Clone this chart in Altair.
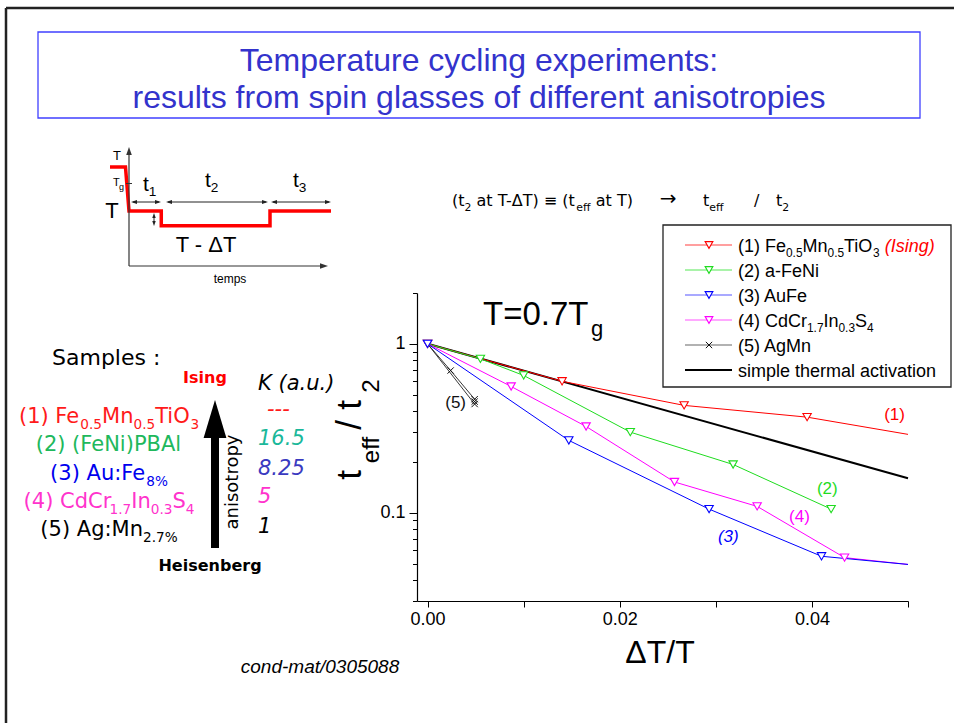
import altair as alt
import pandas as pd

# ---------------- data ----------------
# t_eff / t_2 versus dT/T at T = 0.7 Tg
red_x = [0.0, 0.0140, 0.0267, 0.0395, 0.0500]          # (1) Fe0.5Mn0.5TiO3
red_y = [1.0, 0.600, 0.432, 0.368, 0.291]
green_x = [0.0, 0.0055, 0.0100, 0.0211, 0.0318, 0.0420]  # (2) a-FeNi
green_y = [1.0, 0.815, 0.650, 0.300, 0.193, 0.105]
blue_x = [0.0, 0.0147, 0.0293, 0.0410, 0.0500]          # (3) AuFe
blue_y = [1.0, 0.268, 0.105, 0.0552, 0.0494]
mag_x = [0.0, 0.0087, 0.0165, 0.0257, 0.0343, 0.0434, 0.0500]  # (4) CdCr1.7In0.3S4
mag_y = [1.0, 0.559, 0.324, 0.152, 0.109, 0.0542, 0.0494]
agmn_x = [0.0, 0.0024, 0.0049]                           # (5) AgMn
agmn_y = [1.0, 0.695, 0.470]
agmn2_x = [0.0, 0.0049]
agmn2_y = [1.0, 0.440]
agmn_mk_x = [0.0024, 0.0049, 0.0049, 0.0049]
agmn_mk_y = [0.695, 0.470, 0.455, 0.440]
act_x = [0.0, 0.0500]                                    # simple thermal activation
act_y = [1.0, 0.160]

# curve tags
tag_text = ["(1)", "(2)", "(3)", "(4)", "(5)"]
tag_x = [0.0486, 0.0416, 0.0313, 0.0387, 0.0040]
tag_y = [0.377, 0.139, 0.072, 0.094, 0.446]

# inset: temperature protocol (time a.u., temperature in units of T)
proto_time = [0, 7, 8.6, 23.2, 23.2, 72.4, 72.4, 100]
proto_temp = [1.3, 1.3, 1.0, 1.0, 0.9, 0.9, 1.0, 1.0]

# samples table
sample_K = ["---", "16.5", "8.25", "5", "1"]

# ---------------- styling ----------------
AR = "Liberation Sans"
VD = "DejaVu Sans"
RED, GREEN, BLUE, MAG = "#ff0000", "#1fdc1f", "#0000ff", "#ff00ff"
TITLE_BLUE = "#3333cc"
X0, Y0 = 417, 293        # page position of plot area
PW, PH = 491, 308

W_AR = {' ': .278, '(': .333, ')': .333, '-': .333, '.': .278, '/': .278, '=': .584, 'Δ': .668,
        'A': .667, 'C': .722, 'F': .611, 'I': .278, 'M': .833, 'N': .722, 'O': .778, 'S': .667,
        'T': .611, 'a': .556, 'c': .5, 'd': .556, 'e': .556, 'f': .278, 'g': .556, 'h': .556,
        'i': .222, 'l': .222, 'm': .833, 'n': .556, 'o': .556, 'p': .556, 'r': .333, 's': .5,
        't': .278, 'u': .556, 'v': .5}
for d in "0123456789":
    W_AR[d] = .556
W_VD = {' ': .318, '(': .390, ')': .390, '-': .361, '.': .318, '/': .337, ':': .337, '%': .950,
        '≡': .838, '→': .838, 'Δ': .684, 'A': .684, 'B': .686, 'C': .698, 'F': .575, 'I': .295,
        'K': .656, 'M': .863, 'N': .748, 'O': .787, 'P': .603, 'S': .635, 'T': .611, 'a': .613,
        'e': .615, 'f': .352, 'g': .635, 'i': .278, 'l': .278, 'm': .974, 'n': .634, 'o': .612,
        'p': .635, 'r': .411, 's': .521, 't': .392, 'u': .634}
for d in "0123456789":
    W_VD[d] = .636


def width(s, size, font):
    tab = W_AR if font == AR else W_VD
    return sum(tab.get(c, 0.55) for c in s) * size


annot = []


def txt(s, x, y, size, color="black", font=AR, align="left", baseline="alphabetic",
        style=None, weight=None, angle=None):
    kw = dict(text=s, fontSize=size, color=color, font=font, align=align, baseline=baseline)
    if style:
        kw["fontStyle"] = style
    if weight:
        kw["fontWeight"] = weight
    if angle is not None:
        kw["angle"] = angle
    annot.append(alt.Chart().mark_text(**kw).encode(x=alt.value(x - X0), y=alt.value(y - Y0)))


def rich(parts, x, y, size, color="black", font=AR, align="left", sub=0.65, shift=0.3):
    items = []
    for p in parts:
        s, kind = p[0], p[1]
        opts = p[2] if len(p) > 2 else {}
        fs = size * sub if kind == "s" else size
        items.append((s, fs, kind, opts, width(s, fs, font)))
    total = sum(i[4] for i in items)
    cx = x - total / 2 if align == "center" else (x - total if align == "right" else x)
    for s, fs, kind, opts, w in items:
        dy = size * shift if kind == "s" else 0
        lead = len(s) - len(s.lstrip(" "))
        txt(s.strip(), cx + width(" " * lead, fs, font), y + dy, fs,
            color=opts.get("color", color), font=font, style=opts.get("style"))
        cx += w


def rule(x1, y1, x2, y2, color="black", w=1.0, cap="butt"):
    annot.append(alt.Chart().mark_rule(color=color, strokeWidth=w, strokeCap=cap).encode(
        x=alt.value(x1 - X0), y=alt.value(y1 - Y0), x2=alt.value(x2 - X0), y2=alt.value(y2 - Y0)))


def sym(x, y, shape, size, color, filled=True, w=1.0):
    annot.append(alt.Chart().mark_point(shape=shape, size=size, filled=filled, color=color,
                                        strokeWidth=w, opacity=1).encode(
        x=alt.value(x - X0), y=alt.value(y - Y0)))


def box(x1, y1, x2, y2, stroke, w, fill=None):
    kw = dict(stroke=stroke, strokeWidth=w)
    if fill:
        kw["fill"] = fill
    else:
        kw["fillOpacity"] = 0
    annot.append(alt.Chart().mark_rect(**kw).encode(
        x=alt.value(x1 - X0), y=alt.value(y1 - Y0), x2=alt.value(x2 - X0), y2=alt.value(y2 - Y0)))


# ---------------- main plot ----------------
xs = alt.Scale(domain=[-0.0011, 0.05], nice=False, zero=False)
ys = alt.Scale(type="log", domain=[0.03, 2], nice=False)
xmaj = "abs(datum.value) < 1e-9 || abs(datum.value - 0.02) < 1e-9 || abs(datum.value - 0.04) < 1e-9"
xaxis = alt.Axis(values=[0, 0.01, 0.02, 0.03, 0.04, 0.05],
                 labelExpr=f"({xmaj}) ? format(datum.value, '.2f') : ''",
                 tickSize=6, tickColor="black", tickWidth=1, domainColor="black", domainWidth=1.2,
                 labelColor="black", labelFont=AR, labelFontSize=18, labelPadding=3,
                 labelFlush=False, labelOverlap=False, grid=False, title="")
yaxis = alt.Axis(values=[0.03, 0.04, 0.05, 0.06, 0.07, 0.08, 0.09, 0.1, 0.2, 0.3, 0.4, 0.5,
                         0.6, 0.7, 0.8, 0.9, 1, 2],
                 labelExpr="datum.value == 1 ? '1' : (datum.value == 0.1 ? '0.1' : '')",
                 tickSize={"condition": {"test": "datum.value == 1 || datum.value == 0.1", "value": 8},
                           "value": 4.5},
                 tickColor="black", tickWidth=1, domainColor="black", domainWidth=1.2,
                 labelColor="black", labelFont=AR, labelFontSize=18, labelPadding=4,
                 labelFlush=False, labelOverlap=False, grid=False, title="")
XE = alt.X("x:Q", scale=xs, axis=xaxis)
YE = alt.Y("y:Q", scale=ys, axis=yaxis)


def sdf(a, b):
    return pd.DataFrame({"x": a, "y": b, "i": list(range(len(a)))})


main_layers = [alt.Chart(sdf(act_x, act_y)).mark_line(color="black", strokeWidth=2).encode(
    x=XE, y=YE, order="i:Q")]
tri_series = [(red_x, red_y, RED), (green_x, green_y, GREEN), (mag_x, mag_y, MAG), (blue_x, blue_y, BLUE)]
for a, b, col in tri_series:
    main_layers.append(alt.Chart(sdf(a, b)).mark_line(color=col, strokeWidth=1).encode(
        x=XE, y=YE, order="i:Q"))
for a, b in [(agmn_x, agmn_y), (agmn2_x, agmn2_y)]:
    main_layers.append(alt.Chart(sdf(a, b)).mark_line(color="#222222", strokeWidth=0.9).encode(
        x=XE, y=YE, order="i:Q"))
for a, b, col in tri_series:
    d = sdf(a, b)
    d = d[d["x"] < 0.05]
    main_layers.append(alt.Chart(d).mark_point(shape="triangle-down", size=70, filled=True,
                                               fill="white", stroke=col, strokeWidth=1.1,
                                               opacity=1).encode(x=XE, y=YE))
main_layers.append(alt.Chart(sdf(agmn_mk_x, agmn_mk_y)).mark_point(
    shape="M-1,-1L1,1M-1,1L1,-1", size=40, filled=False, color="#111111", strokeWidth=1,
    opacity=1).encode(x=XE, y=YE))
tag_style = [(RED, None, "center"), (GREEN, None, "center"), (BLUE, "italic", "center"),
             (MAG, None, "center"), ("#111111", None, "right")]
for t, a, b, (col, st, al) in zip(tag_text, tag_x, tag_y, tag_style):
    kw = dict(text=t, fontSize=17, font=AR, color=col, align=al, baseline="middle")
    if st:
        kw["fontStyle"] = st
    main_layers.append(alt.Chart(pd.DataFrame({"x": [a], "y": [b]})).mark_text(**kw).encode(x=XE, y=YE))
main = alt.layer(*main_layers)

# inset protocol curve, with its own scales placed over the inset area
inset = alt.Chart(pd.DataFrame({"t": proto_time, "T": proto_temp, "i": list(range(len(proto_time)))})
                  ).mark_line(color="#ff0000", strokeWidth=3.5).encode(
    x=alt.X("t:Q", scale=alt.Scale(domain=[0, 100], range=[110 - X0, 331 - X0], nice=False, zero=False),
            axis=None),
    y=alt.Y("T:Q", scale=alt.Scale(domain=[0.9, 1.3], range=[225.7 - Y0, 166.9 - Y0], nice=False, zero=False),
            axis=None),
    order="i:Q")

# ---------------- annotations ----------------
# T = 0.7 Tg
txt("T=0.7T", 483, 325, 33, font=AR)
txt("g", 591, 336, 22, font=AR)

# plot legend
box(663, 225, 951, 387, "#222222", 1.3, fill="white")
leg_y = [245, 270, 295, 320, 345, 370]
leg_line = ["#ff4040", "#55e855", "#5555ff", "#ff55ff", "#666666"]
leg_mark = [RED, GREEN, BLUE, MAG]
for k in range(4):
    rule(685, leg_y[k], 732, leg_y[k], leg_line[k], 1.2)
    annot.append(alt.Chart().mark_point(shape="triangle-down", size=60, filled=True, fill="white",
                                        stroke=leg_mark[k], strokeWidth=1.1, opacity=1).encode(
        x=alt.value(709 - X0), y=alt.value(leg_y[k] - Y0)))
rule(685, leg_y[4], 732, leg_y[4], "#666666", 1.2)
sym(709, leg_y[4], "M-1,-1L1,1M-1,1L1,-1", 40, "#111111", filled=False, w=1)
rule(685, leg_y[5], 732, leg_y[5], "black", 2)
LS, LSUB = 18, 0.66
rich([("(1) Fe", "n"), ("0.5", "s"), ("Mn", "n"), ("0.5", "s"), ("TiO", "n"), ("3", "s"),
      (" (Ising)", "n", {"color": RED, "style": "italic"})], 738, leg_y[0] + 6.5, LS, sub=LSUB, shift=0.28)
rich([("(2) a-FeNi", "n")], 738, leg_y[1] + 6.5, LS)
rich([("(3) AuFe", "n")], 738, leg_y[2] + 6.5, LS)
rich([("(4) CdCr", "n"), ("1.7", "s"), ("In", "n"), ("0.3", "s"), ("S", "n"), ("4", "s")],
     738, leg_y[3] + 6.5, LS, sub=LSUB, shift=0.28)
rich([("(5) AgMn", "n")], 738, leg_y[4] + 6.5, LS)
rich([("simple thermal activation", "n")], 738, leg_y[5] + 6.5, LS)

# axis titles
txt("ΔT/T", 660, 653, 32, font=AR, align="center", baseline="middle")
# rotated y title: (text, size, baseline x, centre y along the axis)
for s, f, bx, cyy in [("t", 35, 361, 475), ("eff", 24, 379, 450), ("/", 35, 361, 425),
                      ("t", 35, 361, 405), ("2", 24, 379, 386)]:
    txt(s, bx, cyy, f, font=AR, align="center", angle=270)

# slide frame and title
rule(6, 8, 954, 8, "#222222", 2.5)
rule(6, 8, 6, 723, "#222222", 2.5)
box(38, 32, 920, 118, "#4040ff", 1.3)
txt("Temperature cycling experiments:", 479, 61, 32, color=TITLE_BLUE, align="center", baseline="middle")
txt("results from spin glasses of different anisotropies", 479, 98, 32, color=TITLE_BLUE,
    align="center", baseline="middle")

# formula line
rich([("(t", "n"), ("2", "s"), (" at T-ΔT) ≡ (t", "n"), ("eff", "s"), (" at T)", "n")],
     452, 206, 16, font=VD, sub=0.68, shift=0.3)
txt("→", 668, 205, 20, font=VD, align="center")
rich([("t", "n"), ("eff", "s")], 703, 206, 16, font=VD, sub=0.68, shift=0.3)
txt("/", 754, 206, 16, font=VD)
rich([("t", "n"), ("2", "s")], 776, 206, 16, font=VD, sub=0.68, shift=0.3)

# inset diagram
AX = "#333333"
rule(129, 266, 129, 153, AX, 1.2)
sym(129, 151, "M0,-1L0.7,1L-0.7,1Z", 64, AX)
rule(129, 266, 322, 266, AX, 1.2)
sym(324, 266, "M1,0L-1,0.7L-1,-0.7Z", 64, AX)
rule(126, 183.5, 132, 183.5, AX, 1)
for a, b in [(131, 161), (166, 268), (271, 331)]:
    rule(a + 2, 202, b - 2, 202, "#222222", 1)
    sym(a + 3, 202, "M-1,0L1,-0.7L1,0.7Z", 36, "#222222")
    sym(b - 3, 202, "M1,0L-1,0.7L-1,-0.7Z", 36, "#222222")
rule(154, 216, 154, 223, "#222222", 1)
sym(154, 215.5, "M0,-1L0.7,1L-0.7,1Z", 25, "#222222")
sym(154, 223.5, "M0,1L0.7,-1L-0.7,-1Z", 25, "#222222")
txt("T", 117, 160, 13, font=AR, align="center")
txt("T", 113, 186, 11, font=AR)
txt("g", 119, 190, 9, font=AR)
txt("T", 112, 218, 22, font=AR, align="center")
rich([("t", "n"), ("1", "s")], 143, 191, 21, sub=0.65, shift=0.25)
rich([("t", "n"), ("2", "s")], 205, 187, 21, sub=0.65, shift=0.25)
rich([("t", "n"), ("3", "s")], 293, 187, 21, sub=0.65, shift=0.25)
txt("T - ΔT", 206, 245, 22, font=AR, align="center", baseline="middle")
txt("temps", 230, 279, 12, font=AR, align="center", baseline="middle")

# samples block
txt("Samples :", 52, 365, 22, font=VD)
txt("Ising", 205, 383, 16, color="#ff0000", font=VD, align="center", weight="bold")
txt("K (a.u.)", 258, 390, 21, font=VD, style="italic")
SS = 21
rich([("(1) Fe", "n"), ("0.5", "s"), ("Mn", "n"), ("0.5", "s"), ("TiO", "n"), ("3", "s")],
     109, 423, SS, color="#ff1a1a", font=VD, align="center")
rich([("(2) (FeNi)PBAl", "n")], 109, 451, SS, color="#20b85c", font=VD, align="center")
rich([("(3) Au:Fe", "n"), ("8%", "s")], 109, 480, SS, color="#0000ee", font=VD, align="center")
rich([("(4) CdCr", "n"), ("1.7", "s"), ("In", "n"), ("0.3", "s"), ("S", "n"), ("4", "s")],
     109, 508, SS, color="#ff33cc", font=VD, align="center")
rich([("(5) Ag:Mn", "n"), ("2.7%", "s")], 109, 536, SS, color="black", font=VD, align="center")
k_pos = [(267, 416), (258, 445), (258, 475), (258, 503), (258, 533)]
k_col = ["#ff1a1a", "#1ab89a", "#3a3ac0", "#ff33cc", "black"]
for s, (kx, ky), col in zip(sample_K, k_pos, k_col):
    txt(s, kx, ky, SS, color=col, font=VD, style="italic")
rule(215, 436, 215, 548, "black", 8)
sym(215, 419, "M0,-1L0.6,1L-0.6,1Z", 1444, "black")
txt("anisotropy", 233, 482, 18, font=VD, align="center", baseline="middle", angle=270)
txt("Heisenberg", 210, 571, 16, font=VD, align="center", weight="bold")

# reference
txt("cond-mat/0305088", 320, 667, 19, font=AR, align="center", baseline="middle", style="italic")

chart = alt.layer(main, inset, *annot, data=pd.DataFrame({"k": [0]})).resolve_scale(
    x="independent", y="independent"
).properties(
    width=PW, height=PH,
    padding={"left": X0, "top": Y0, "right": 954 - X0 - PW, "bottom": 723 - Y0 - PH},
    autosize=alt.AutoSizeParams(type="none"),
    background="white",
).configure_view(strokeWidth=0)

chart.save("out.html", embed_options={"renderer": "svg", "actions": False})
